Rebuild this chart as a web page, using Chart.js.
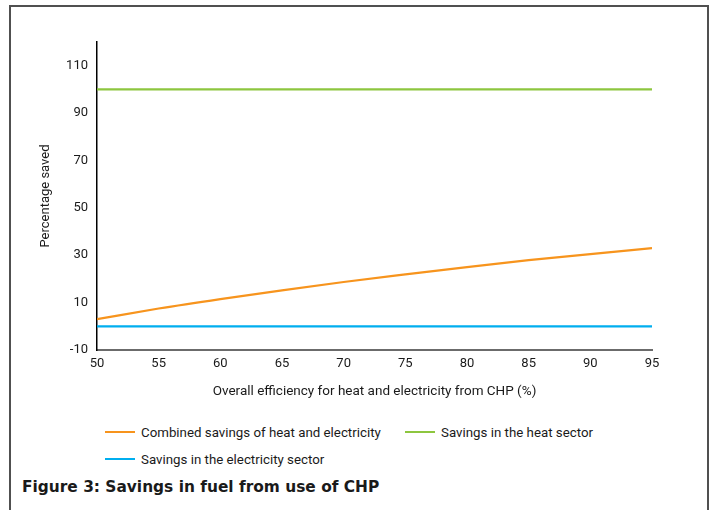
<!DOCTYPE html>
<html>
<head>
<meta charset="utf-8">
<script src="https://cdn.jsdelivr.net/npm/chart.js@4.4.1/dist/chart.umd.min.js"></script>
<style>
  html, body { margin: 0; padding: 0; background: #fff; }
  body { width: 713px; height: 510px; position: relative; overflow: hidden; font-family: Roboto, "Noto Sans", sans-serif; color: #1a1a1a; }
  .frame { position: absolute; left: 9px; top: 5px; width: 696px; height: 520px; border: 2px solid #505050; border-bottom: none; pointer-events: none; }
  #chart { position: absolute; left: 0; top: 0; }
  .legend { position: absolute; left: 105px; top: 423px; display: grid; grid-template-columns: 300px auto; row-gap: 9px; font-size: 13.3px; }
  .legend-item { display: flex; align-items: center; height: 18px; white-space: nowrap; }
  .legend-swatch { width: 30px; height: 2px; margin-right: 6px; }
  .caption { position: absolute; left: 22px; top: 478px; font-family: "DejaVu Sans", sans-serif; font-size: 15.4px; font-weight: bold; }
</style>
</head>
<body>
<div class="frame"></div>
<canvas id="chart" width="713" height="400"></canvas>
<div class="legend" id="legend"></div>
<div class="caption">Figure 3: Savings in fuel from use of CHP</div>
<script>
const efficiency = [50, 55, 60, 65, 70, 75, 80, 85, 90, 95];
const combinedSavings = [3, 7.5, 11.5, 15.2, 18.7, 21.9, 25, 27.9, 30.5, 33];
const heatSavings = [100, 100, 100, 100, 100, 100, 100, 100, 100, 100];
const electricitySavings = [0, 0, 0, 0, 0, 0, 0, 0, 0, 0];
const seriesNames = ['Combined savings of heat and electricity', 'Savings in the heat sector', 'Savings in the electricity sector'];
const seriesColors = ['#f7941d', '#8dc63f', '#00aeef'];
const xTicks = [50, 55, 60, 65, 70, 75, 80, 85, 90, 95];
const yTicks = [-10, 10, 30, 50, 70, 90, 110];

const toPoints = values => efficiency.map((x, i) => ({ x, y: values[i] }));
const seriesValues = [combinedSavings, heatSavings, electricitySavings];

const datasets = seriesValues.map((values, i) => ({
  label: seriesNames[i],
  data: toPoints(values),
  borderColor: seriesColors[i],
  backgroundColor: seriesColors[i],
  borderWidth: 2.2,
  pointRadius: 0,
  cubicInterpolationMode: 'monotone',
  fill: false
}));

const tickFont = { family: 'Roboto', size: 13 };

new Chart(document.getElementById('chart'), {
  type: 'line',
  data: { datasets },
  options: {
    responsive: false,
    animation: false,
    devicePixelRatio: 1,
    layout: { padding: { left: 0, top: 42, right: 61, bottom: 0 } },
    plugins: { legend: { display: false }, tooltip: { enabled: false } },
    scales: {
      x: {
        type: 'linear',
        min: 50,
        max: 95,
        afterBuildTicks: scale => { scale.ticks = xTicks.map(v => ({ value: v })); },
        afterFit: scale => { scale.height = 50; },
        grid: { display: false, drawTicks: false },
        border: { display: true, color: '#6b6b6b', width: 2 },
        ticks: { padding: 6, font: tickFont, color: '#1a1a1a', maxRotation: 0, autoSkip: false },
        title: {
          display: true,
          text: 'Overall efficiency for heat and electricity from CHP (%)',
          font: { family: 'Roboto', size: 13.5 },
          color: '#1a1a1a',
          padding: { top: 0, bottom: 0 }
        }
      },
      y: {
        min: -10,
        max: 120,
        afterBuildTicks: scale => { scale.ticks = yTicks.map(v => ({ value: v })); },
        afterFit: scale => { scale.width = 97; },
        grid: { display: false, drawTicks: false },
        border: { display: true, color: '#000', width: 1.5 },
        ticks: { padding: 9, font: tickFont, color: '#1a1a1a', autoSkip: false },
        title: {
          display: true,
          text: 'Percentage saved',
          font: { family: 'Roboto', size: 13 },
          color: '#1a1a1a',
          padding: { top: 38, bottom: 0 }
        }
      }
    }
  }
});

// legend laid out as a two-column grid like the figure
const legendEl = document.getElementById('legend');
seriesNames.forEach((name, i) => {
  legendEl.insertAdjacentHTML('beforeend',
    `<div class="legend-item"><span class="legend-swatch" style="background:${seriesColors[i]}"></span>${name}</div>`);
});
</script>
</body>
</html>
